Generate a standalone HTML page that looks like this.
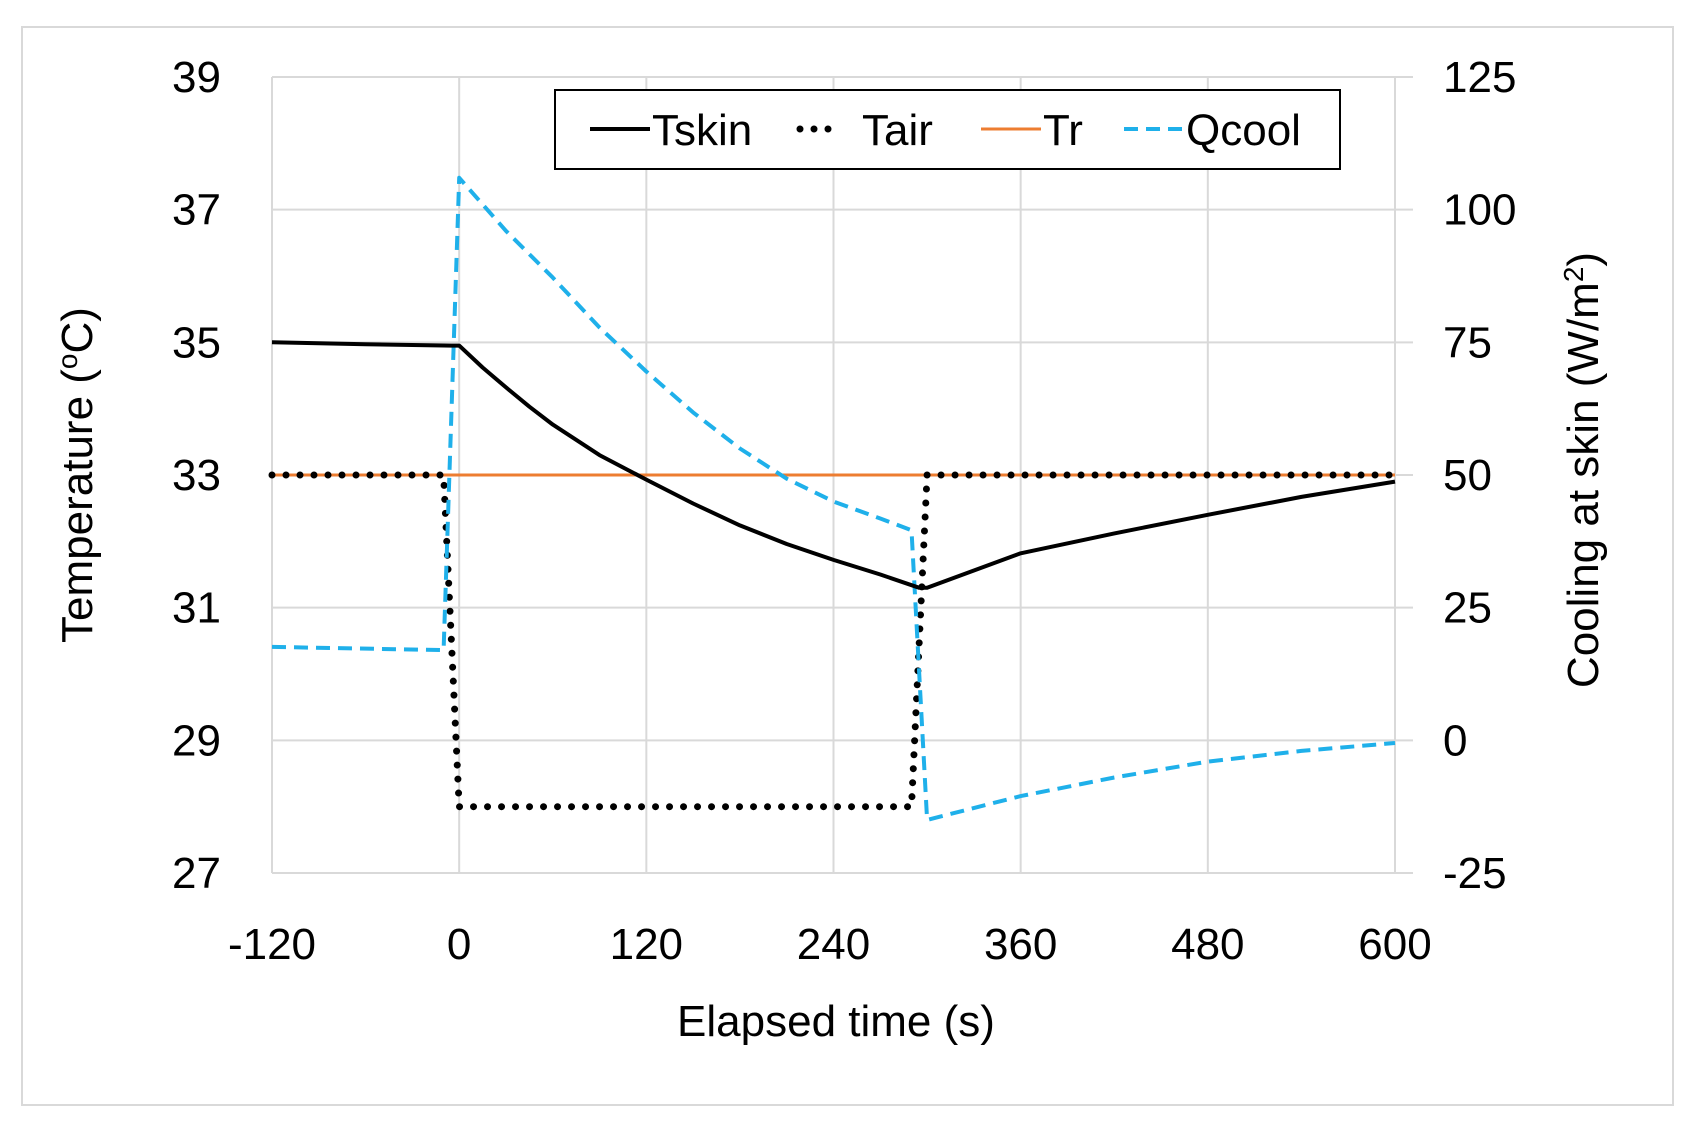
<!DOCTYPE html>
<html><head><meta charset="utf-8"><style>
body{margin:0;background:#fff;}
svg{display:block;font-family:"Liberation Sans",sans-serif;}
</style></head><body>
<svg id="chart" width="1691" height="1132">
<rect x="22" y="27" width="1651" height="1078" fill="#fff" stroke="#d9d9d9" stroke-width="2"/>
<g id="grid"></g>
<g id="ticks"></g>
<g id="series"></g>
<text x="92" y="475" transform="rotate(-90 92 475)" text-anchor="middle" font-size="44" fill="#000">Temperature (<tspan baseline-shift="super" font-size="28">o</tspan>C)</text>
<text x="1598" y="470" transform="rotate(-90 1598 470)" text-anchor="middle" font-size="44" fill="#000">Cooling at skin (W/m<tspan baseline-shift="super" font-size="28">2</tspan>)</text>
<text x="836" y="1036" text-anchor="middle" font-size="44" fill="#000">Elapsed time (s)</text>
<g>
<rect x="555" y="90" width="785" height="79" fill="#fff" stroke="#000" stroke-width="2"/>
<g><line x1="590" y1="129" x2="650" y2="129" stroke="#000" stroke-width="4"/><text x="652" y="145" font-size="44">Tskin</text></g>
<g><line x1="800" y1="129" x2="835" y2="129" stroke="#000" stroke-width="7" stroke-linecap="round" stroke-dasharray="0 14"/><text x="862" y="145" font-size="44">Tair</text></g>
<g><line x1="981" y1="129" x2="1041" y2="129" stroke="#ed7d31" stroke-width="3"/><text x="1043" y="145" font-size="44">Tr</text></g>
<g><line x1="1124" y1="129" x2="1184" y2="129" stroke="#1fb0ea" stroke-width="4" stroke-dasharray="14 8"/><text x="1186" y="145" font-size="44">Qcool</text></g>
</g>
</svg>
<script>
const xTicks=[-120,0,120,240,360,480,600];
const yLeftTicks=[27,29,31,33,35,37,39];
const yRightTicks=[-25,0,25,50,75,100,125];
const tskinT=[-120,-60,-5,0,15,30,45,60,90,120,150,180,210,240,270,295,300,330,360,420,480,540,600];
const tskinV=[35.0,34.97,34.95,34.95,34.62,34.32,34.03,33.76,33.3,32.93,32.57,32.24,31.96,31.72,31.5,31.3,31.3,31.56,31.82,32.12,32.4,32.67,32.9];
const tairT=[-120,-10,0,290,300,600];
const tairV=[33,33,28,28,33,33];
const trT=[-120,600];
const trV=[33,33];
const qT=[-120,-10,0,30,60,90,120,150,180,210,240,270,290,300,360,420,480,540,600];
const qV=[17.6,17,106,96,87.2,77.8,69.5,61.8,55,49.3,45,41.8,39.6,-15,-10.5,-7,-4,-2,-0.5];

const X0=272,X1=1395,Y0=873,Y1=77;
const sx=t=>X0+(t+120)/720*(X1-X0);
const syL=v=>Y0-(v-27)/12*(Y0-Y1);
const syR=v=>Y0-(v+25)/150*(Y0-Y1);
const NS="http://www.w3.org/2000/svg";
function mk(tag,attrs,parent){const e=document.createElementNS(NS,tag);for(const k in attrs)e.setAttribute(k,attrs[k]);parent.appendChild(e);return e;}
const grid=document.getElementById('grid'),ticks=document.getElementById('ticks'),series=document.getElementById('series');
yLeftTicks.forEach((v,i)=>{
  const y=syL(v);
  const l=mk('line',{x1:X0,x2:X1+18,y1:y,y2:y,stroke:'#d9d9d9','stroke-width':2},grid);
  
  
  const t=mk('text',{x:221,y:y+15,'text-anchor':'end','font-size':44},ticks);t.textContent=v;
  
  
});
yRightTicks.forEach(v=>{
  const t=mk('text',{x:1443,y:syR(v)+15,'text-anchor':'start','font-size':44},ticks);t.textContent=v;
  
  
});
xTicks.forEach(v=>{
  const x=sx(v);
  const l=mk('line',{x1:x,x2:x,y1:Y1,y2:Y0,stroke:'#d9d9d9','stroke-width':2},grid);
  
  
  const t=mk('text',{x:x,y:959,'text-anchor':'middle','font-size':44},ticks);t.textContent=v;
  
  
});
function pts(T,V,fy){return T.map((t,i)=>sx(t).toFixed(1)+','+fy(V[i]).toFixed(1)).join(' ');}
const tr=mk('polyline',{points:pts(trT,trV,syL),fill:'none',stroke:'#ed7d31','stroke-width':3},series);


const ta=mk('polyline',{points:pts(tairT,tairV,syL),fill:'none',stroke:'#000','stroke-width':7,'stroke-linecap':'round','stroke-dasharray':'0 14'},series);


const q=mk('polyline',{points:pts(qT,qV,syR),fill:'none',stroke:'#1fb0ea','stroke-width':4,'stroke-dasharray':'14 8','stroke-linejoin':'round'},series);


const ts=mk('polyline',{points:pts(tskinT,tskinV,syL),fill:'none',stroke:'#000','stroke-width':4,'stroke-linejoin':'round'},series);


</script>
</body></html>
